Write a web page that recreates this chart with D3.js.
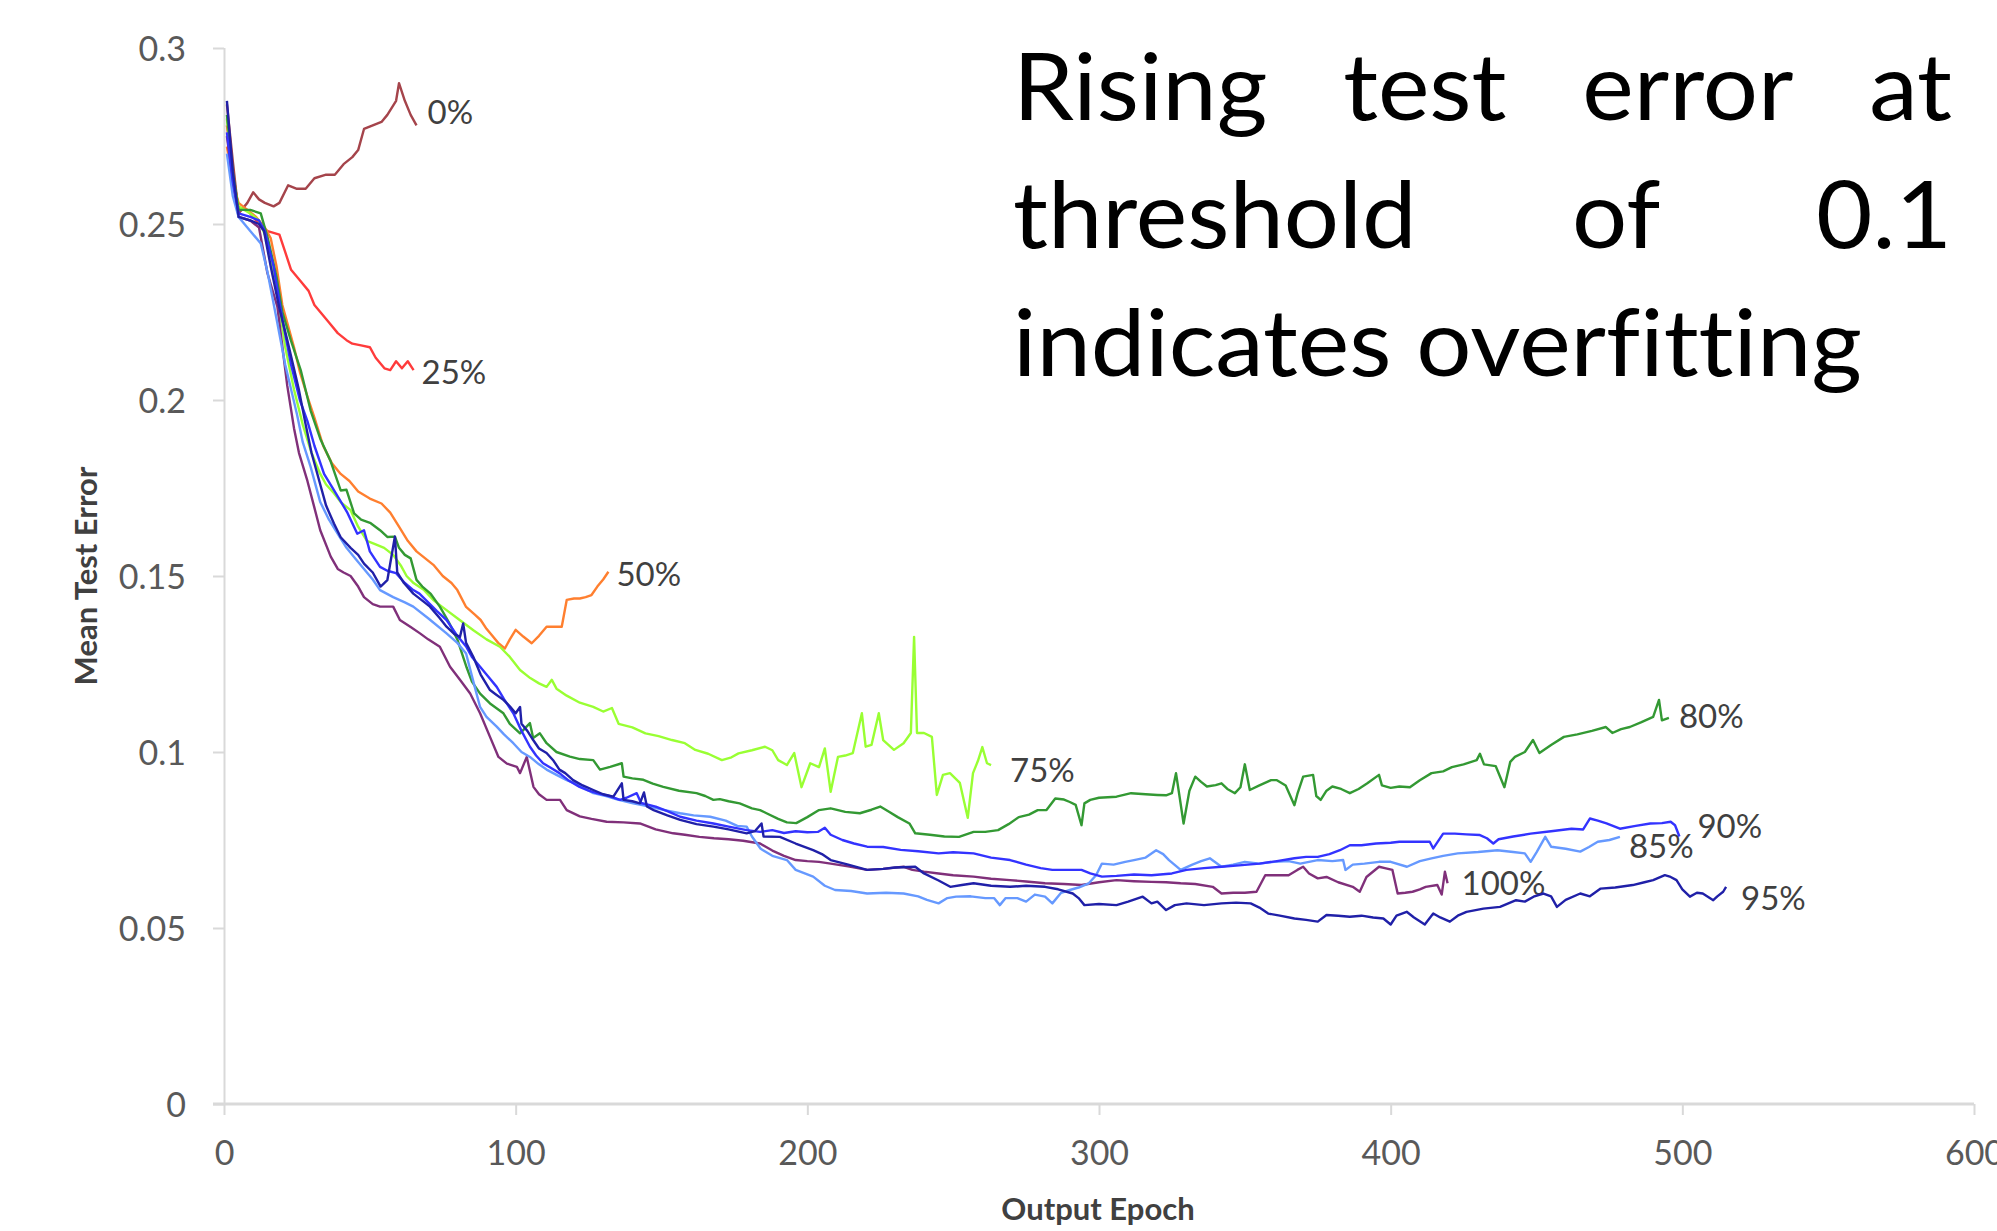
<!DOCTYPE html>
<html>
<head>
<meta charset="utf-8">
<script src="https://cdn.jsdelivr.net/npm/d3@7"></script>
<style>
  body { margin: 0; background: #fff; }
  svg { display: block; }
  text { font-variant-ligatures: none; }
</style>
</head>
<body>
<div id="chart"></div>
<script>
// ---- data: [epoch, mean test error] ----
var err0 = [[1,0.284],[3,0.268],[5,0.253],[8,0.256],[10,0.259],[12,0.257],[14,0.256],[17,0.255],[19,0.256],[22,0.261],[25,0.26],[28,0.26],[31,0.263],[35,0.264],[38,0.264],[41,0.267],[44,0.269],[46,0.271],[48,0.277],[51,0.278],[54,0.279],[56,0.281],[59,0.285],[60,0.29],[62,0.285],[64,0.281],[66,0.278]];

var err25 = [[1,0.278],[3,0.265],[5,0.254],[8,0.254],[11,0.251],[13,0.249],[15,0.248],[19,0.247],[21,0.242],[23,0.237],[26,0.234],[29,0.231],[31,0.227],[33,0.225],[36,0.222],[39,0.219],[42,0.217],[44,0.216],[47,0.2155],[50,0.215],[52,0.212],[55,0.209],[57,0.2085],[59,0.211],[61,0.209],[63,0.211],[65,0.2085]];

var err50 = [[1,0.272],[3,0.262],[5,0.256],[8,0.254],[11,0.252],[14,0.249],[16,0.246],[18,0.238],[20,0.227],[22,0.221],[24,0.215],[26,0.208],[28.6,0.201],[31,0.195],[34,0.187],[37,0.182],[40,0.179],[43,0.177],[46,0.174],[50,0.172],[54,0.1706],[57,0.168],[60,0.164],[63,0.16],[66,0.157],[69,0.155],[72,0.153],[75,0.15],[78,0.148],[80,0.146],[83,0.1412],[86,0.139],[88,0.1375],[90,0.135],[92,0.133],[94,0.131],[96.3,0.1294],[98,0.132],[100,0.1347],[102.6,0.1328],[105.5,0.1309],[108,0.133],[110.6,0.1356],[113,0.1356],[115.8,0.1356],[117.5,0.1432],[120,0.1436],[122,0.1436],[124,0.144],[126,0.1446],[128,0.147],[130,0.149],[131.8,0.1512]];

var err75 = [[1,0.28],[3,0.262],[5,0.255],[9,0.253],[12,0.251],[15,0.245],[18,0.232],[21,0.215],[24,0.203],[27,0.193],[30,0.185],[33,0.179],[35,0.176],[37.7,0.1735],[40,0.171],[43.4,0.1687],[46,0.164],[49,0.16],[52,0.159],[54.9,0.158],[58,0.156],[60.6,0.153],[62.6,0.15],[65,0.148],[68.6,0.146],[72,0.143],[76.3,0.1403],[80,0.138],[85.5,0.1346],[90,0.132],[94.6,0.1299],[98,0.127],[101.5,0.1233],[105,0.121],[108,0.1195],[110.6,0.1185],[112.4,0.1205],[114,0.118],[117.5,0.116],[122,0.114],[126.6,0.1128],[130,0.1115],[133,0.1125],[135.3,0.108],[140,0.107],[144.5,0.1053],[149,0.1045],[153.6,0.1034],[158,0.1025],[161.6,0.1006],[166,0.0995],[170.7,0.0977],[174,0.0985],[176.4,0.0996],[181,0.1005],[185.5,0.1015],[188,0.1005],[190,0.0977],[193,0.0963],[195.5,0.0997],[198,0.09],[201,0.0968],[204,0.0957],[206,0.101],[208,0.0887],[210.5,0.0986],[213,0.099],[215.6,0.0997],[218.7,0.111],[220,0.1015],[222,0.102],[224.5,0.111],[226,0.1034],[229.7,0.1006],[233,0.1025],[235.5,0.1054],[236.6,0.1327],[237.6,0.1054],[240,0.1054],[242.7,0.1043],[244.4,0.0878],[246.5,0.0935],[248.9,0.094],[252.3,0.0912],[255,0.0813],[256.8,0.094],[258.5,0.0975],[260,0.1014],[261.6,0.0968],[263,0.0963]];

var err80 = [[1,0.281],[3,0.265],[5,0.254],[9,0.254],[12.6,0.253],[15,0.246],[18,0.235],[20,0.225],[22.9,0.217],[26.3,0.2085],[29.7,0.197],[33,0.189],[36.6,0.1825],[40,0.1743],[42,0.1745],[44.6,0.1678],[47,0.166],[50.3,0.165],[53.5,0.163],[56,0.1611],[58.6,0.1612],[60,0.158],[62,0.156],[64,0.155],[66,0.1489],[68,0.147],[70.9,0.1449],[74,0.1413],[77,0.137],[80,0.132],[83.2,0.124],[85,0.12],[87.8,0.1166],[91.2,0.1138],[95.8,0.111],[98,0.108],[101.5,0.1053],[104.9,0.1082],[106,0.104],[108.3,0.1053],[110.6,0.1025],[114,0.1],[118.6,0.0987],[122,0.098],[126.6,0.0977],[128.9,0.095],[132.4,0.0958],[136.4,0.0968],[137,0.093],[140,0.0925],[143.8,0.0921],[147,0.091],[150.6,0.0901],[156,0.089],[162,0.0883],[165,0.0875],[167.8,0.0864],[170,0.0866],[173,0.086],[176.8,0.0854],[181,0.084],[183.8,0.0835],[186,0.0826],[190,0.081],[193,0.08],[196.2,0.0798],[200,0.0815],[204,0.0835],[208,0.084],[213,0.083],[218,0.0826],[222,0.0836],[225,0.0845],[228,0.083],[231,0.0815],[235,0.0797],[237,0.0769],[242,0.0765],[247,0.076],[252,0.0759],[257,0.0773],[261,0.0773],[265.4,0.0778],[269,0.0795],[272.5,0.0815],[276,0.0822],[279,0.0835],[282,0.0835],[285,0.0868],[288,0.0865],[290,0.0858],[292,0.085],[294,0.0792],[295,0.0854],[297,0.0864],[300,0.087],[306,0.0873],[311,0.0883],[316,0.088],[320,0.0878],[323,0.0877],[325,0.0883],[326.4,0.094],[327.5,0.088],[329,0.0797],[331,0.089],[333,0.093],[335,0.0915],[337,0.0902],[340,0.0906],[342,0.0911],[344,0.0895],[346.6,0.0883],[348.5,0.09],[350,0.0965],[351.7,0.0892],[355,0.0905],[359,0.092],[361,0.092],[364,0.0905],[367,0.0849],[368,0.088],[370,0.093],[373.4,0.0935],[374.5,0.0875],[376,0.0864],[378,0.089],[380,0.0902],[383,0.0895],[386,0.0883],[389,0.0895],[392,0.0911],[396,0.0935],[397,0.0905],[400,0.0898],[403,0.0902],[406.6,0.09],[410,0.092],[414,0.094],[418,0.0945],[421,0.0957],[425,0.0965],[429.5,0.0977],[430.6,0.0995],[432,0.0965],[436,0.096],[439,0.09],[441,0.0972],[442.6,0.0986],[446,0.1],[448.8,0.1034],[451,0.0997],[455,0.102],[459.4,0.1043],[464,0.105],[469,0.106],[473.8,0.1071],[476,0.1054],[479,0.1065],[482,0.1071],[486,0.1085],[490,0.11],[492,0.1148],[493,0.109],[495.4,0.1097]];

var err85 = [[1,0.27],[3,0.258],[5,0.252],[9,0.248],[12.6,0.2445],[15,0.236],[18.3,0.2218],[21,0.21],[25,0.196],[27,0.188],[29.7,0.181],[33,0.171],[36,0.166],[39,0.162],[42,0.158],[45,0.155],[48,0.152],[51,0.149],[53.5,0.146],[58,0.144],[62,0.1425],[64.9,0.1413],[70,0.138],[76.3,0.1337],[80,0.131],[83,0.128],[85.5,0.12],[87.8,0.1128],[90,0.11],[93.5,0.1072],[96,0.105],[99.2,0.1025],[102,0.1],[104.9,0.0986],[108,0.0965],[110.6,0.095],[114,0.0935],[117.5,0.092],[122,0.0905],[126.6,0.0883],[131,0.0875],[135,0.0865],[140.3,0.0854],[146,0.0845],[151,0.0835],[156.4,0.0826],[161,0.082],[166.7,0.0816],[172,0.0805],[176,0.079],[179.2,0.0788],[181,0.076],[184,0.0725],[188,0.0705],[193,0.0693],[196,0.0665],[202,0.0646],[206,0.062],[209.5,0.0608],[215,0.0605],[220.5,0.0598],[227,0.06],[233,0.0598],[238,0.059],[241,0.058],[245,0.057],[248,0.0585],[251,0.0589],[256,0.059],[261,0.0585],[264,0.0585],[266,0.0565],[268,0.0585],[272,0.0585],[275,0.0575],[278,0.0595],[281.5,0.0589],[284,0.057],[287,0.06],[290,0.0608],[293,0.0615],[296.5,0.0627],[299,0.065],[301,0.0683],[305,0.068],[309,0.0688],[312,0.0693],[316,0.07],[319.6,0.0721],[322,0.071],[324,0.0693],[328,0.0665],[332,0.068],[335,0.069],[338,0.0698],[342,0.0674],[346,0.068],[350,0.0688],[355,0.0683],[360,0.0688],[365,0.069],[369,0.0683],[375,0.0693],[380,0.069],[383.7,0.0693],[384.5,0.0665],[387,0.068],[391,0.0683],[396,0.0688],[400,0.0688],[405.6,0.0674],[410,0.069],[414,0.0698],[418,0.0705],[423,0.0712],[430,0.0716],[436.6,0.0721],[442,0.0716],[446,0.0712],[448,0.0688],[450,0.0715],[453,0.0759],[455,0.0731],[460,0.0725],[465,0.0717],[468,0.073],[471,0.0745],[475,0.075],[478.6,0.0759]];

var err90 = [[1,0.276],[3,0.262],[5,0.253],[9,0.252],[12,0.251],[14,0.248],[17,0.238],[20,0.223],[23,0.21],[26,0.2],[28.6,0.194],[31,0.187],[34.3,0.179],[38,0.174],[42.3,0.168],[45.7,0.162],[48,0.163],[50,0.157],[53.5,0.1526],[56,0.1515],[59,0.1508],[62,0.148],[64.9,0.146],[67,0.145],[70.6,0.142],[73,0.14],[76.3,0.1375],[80,0.133],[83,0.13],[85,0.127],[87.8,0.1242],[90,0.122],[93.5,0.1185],[96,0.115],[99.2,0.111],[102,0.106],[104.9,0.1015],[107,0.099],[109.4,0.0968],[112,0.0955],[115,0.094],[118,0.092],[121.9,0.0901],[125,0.089],[127.8,0.0883],[132,0.0875],[135.8,0.0864],[138,0.087],[141.5,0.0883],[143,0.0855],[148,0.0845],[152,0.0832],[156.4,0.0816],[162,0.0805],[167.8,0.0797],[173,0.0788],[179.2,0.0778],[183.8,0.0773],[188,0.0778],[192,0.077],[196,0.0775],[200,0.0772],[203.6,0.0773],[206,0.0785],[208,0.0765],[212,0.075],[216,0.074],[220.5,0.0731],[226,0.073],[232,0.0722],[238,0.0718],[245,0.0712],[250,0.0715],[257,0.0712],[263,0.07],[269.5,0.0693],[275,0.068],[280,0.067],[284,0.0665],[289,0.0665],[294,0.0665],[297,0.0655],[301,0.0646],[306,0.0648],[312,0.0652],[318,0.065],[325,0.0655],[330,0.0665],[336,0.067],[342,0.0674],[348,0.0678],[355,0.0683],[361,0.069],[367,0.0698],[371,0.0702],[375,0.0702],[379,0.071],[382.6,0.0721],[386,0.0735],[390,0.0735],[395,0.074],[400,0.0742],[403,0.0745],[408,0.0745],[413.4,0.0745],[414.6,0.0726],[418,0.0768],[422,0.0768],[426,0.0766],[430.6,0.0764],[433,0.0755],[435.2,0.074],[437,0.0752],[442,0.076],[448,0.0768],[455,0.0775],[462,0.0782],[466,0.078],[468.3,0.0811],[471,0.0805],[474,0.0797],[478.6,0.0782],[484,0.079],[489,0.0797],[493,0.0798],[496,0.0802],[497.5,0.0792],[499,0.076]];

var err95 = [[1,0.285],[3,0.265],[5,0.252],[9,0.251],[12,0.25],[13.7,0.248],[16,0.238],[19,0.226],[21.7,0.217],[25.7,0.2028],[28,0.193],[30,0.185],[33,0.176],[35,0.17],[37.7,0.1649],[40,0.161],[43.4,0.158],[46,0.156],[48,0.1535],[51,0.151],[53.7,0.147],[56,0.1488],[58.6,0.1612],[59.4,0.151],[61.7,0.148],[64.9,0.145],[68,0.143],[70.6,0.1413],[74,0.138],[76.3,0.1356],[79,0.1335],[80.9,0.1327],[82,0.1365],[83,0.131],[85.5,0.127],[88,0.122],[91.2,0.1176],[93,0.1165],[95.8,0.1148],[98,0.113],[100,0.111],[101.5,0.1128],[102,0.108],[104,0.106],[106,0.1034],[108,0.101],[110.6,0.0997],[113,0.0975],[115,0.095],[117,0.094],[119.7,0.092],[123,0.0905],[126.6,0.0892],[130,0.088],[133.5,0.0873],[136.4,0.0911],[137,0.0864],[140,0.086],[142.6,0.0854],[144,0.0885],[145,0.0845],[147.3,0.0835],[152,0.082],[156.4,0.0807],[162,0.0795],[167.8,0.0788],[173,0.078],[179.2,0.0769],[182,0.0775],[184.3,0.0797],[185,0.076],[190.6,0.0759],[196,0.074],[202,0.0721],[205,0.071],[208,0.0693],[214,0.068],[220.5,0.0665],[226,0.0668],[230,0.0672],[237,0.0674],[240,0.0655],[245,0.0635],[249,0.0617],[253,0.0622],[257,0.0627],[263,0.062],[269.5,0.0617],[275,0.062],[281.5,0.0617],[286,0.061],[291,0.0598],[293,0.0585],[295,0.0565],[300,0.0568],[306,0.0565],[310,0.0575],[315,0.0589],[318,0.057],[320,0.0575],[323,0.0551],[326,0.0565],[330,0.057],[336,0.0565],[342,0.057],[347,0.0572],[352,0.057],[355,0.0558],[358,0.0541],[362,0.0535],[367,0.0527],[371,0.0523],[375,0.0518],[378,0.0537],[382,0.0535],[386,0.0532],[390,0.0535],[394,0.053],[397.5,0.0527],[400,0.051],[402,0.0535],[405.5,0.0546],[408,0.053],[411.7,0.051],[414.6,0.0541],[417,0.053],[420.3,0.0518],[423,0.0535],[426,0.0546],[431.8,0.0555],[437.5,0.056],[443,0.0579],[446,0.0575],[449,0.0589],[452.4,0.0598],[455,0.059],[457,0.056],[460,0.058],[465,0.0598],[468.3,0.059],[472,0.0612],[477,0.0615],[483,0.0622],[487,0.063],[490,0.0636],[494,0.065],[496,0.0645],[498,0.0636],[500,0.061],[502.6,0.0589],[505,0.06],[507,0.0598],[510.6,0.0579],[512,0.059],[514,0.0603],[515,0.0617]];

var err100 = [[1,0.275],[3,0.262],[5,0.252],[9,0.251],[12,0.249],[14.9,0.236],[18.3,0.2265],[21.7,0.204],[24,0.192],[25.7,0.185],[28.6,0.177],[30.9,0.1697],[33,0.163],[36.6,0.1555],[39,0.152],[41,0.151],[43.4,0.15],[46,0.147],[48,0.144],[51,0.142],[53.5,0.1413],[58,0.1413],[60.3,0.1375],[64,0.1355],[67.2,0.1337],[70,0.132],[74,0.1299],[77.5,0.1242],[80.9,0.1205],[84.4,0.1166],[87.8,0.111],[91.2,0.1043],[94.1,0.0986],[97,0.0967],[100.4,0.0958],[101.5,0.094],[103.8,0.0986],[106.1,0.0901],[108,0.088],[110.6,0.0864],[115.2,0.0864],[117.5,0.0835],[122,0.0817],[126,0.081],[131.2,0.0802],[137,0.08],[142.6,0.0797],[148,0.078],[154,0.0769],[158,0.0765],[163,0.0759],[168,0.0755],[173,0.0752],[178,0.0748],[183.8,0.074],[188,0.072],[192,0.0705],[196,0.0693],[200,0.069],[204,0.0688],[208,0.0683],[214,0.0675],[220.5,0.0665],[226,0.0668],[233,0.0674],[236,0.0665],[240,0.066],[245,0.0655],[250,0.065],[257,0.0646],[263,0.064],[269.5,0.0636],[275,0.0632],[281.5,0.0627],[288,0.0625],[294,0.0622],[300,0.063],[306,0.0636],[312,0.0633],[318,0.0631],[323,0.063],[328,0.0627],[333,0.0625],[339,0.0617],[342,0.0598],[346,0.06],[350,0.06],[354,0.0603],[357,0.065],[361,0.065],[365,0.065],[368,0.0665],[370,0.0674],[372,0.0655],[375,0.0641],[378,0.0645],[382,0.063],[387,0.0617],[389.4,0.0603],[391.7,0.0645],[396,0.0674],[398,0.067],[400.6,0.0665],[402.4,0.0598],[405,0.06],[407.5,0.0603],[410,0.061],[412,0.0617],[416,0.0622],[417.5,0.0595],[418.6,0.066],[419.5,0.0627]];

var seriesNames = ["0%", "25%", "50%", "75%", "80%", "100%", "85%", "90%", "95%"];
var seriesData = [err0, err25, err50, err75, err80, err100, err85, err90, err95];

var xTicks = [0, 100, 200, 300, 400, 500, 600];
var yTicks = [0, 0.05, 0.1, 0.15, 0.2, 0.25, 0.3];

var noteLines = [
  ["Rising", "test", "error", "at"],
  ["threshold", "of", "0.1"],
  ["indicates", "overfitting"]
];

// ---- styling (kept apart from the data) ----
var colors = {
  "0%": "#a5444b", "25%": "#ff3b3b", "50%": "#ff7f2f", "75%": "#99ff33",
  "80%": "#339933", "85%": "#6699ff", "90%": "#3333ff", "95%": "#2020a8",
  "100%": "#80307a"
};
// label offset from the last point of each line
var labelOffset = {
  "0%": [11, -13], "25%": [8, 2], "50%": [8, 2], "75%": [19, 5],
  "80%": [10, -2], "85%": [9, 9], "90%": [18, -10], "95%": [15, 11],
  "100%": [14, 0]
};

var fontFam = "Lato, 'Open Sans', sans-serif";

var W = 1997, H = 1231;
var margin = {top: 48, right: 23, bottom: 127, left: 224},
  width = W - margin.left - margin.right,
  height = H - margin.top - margin.bottom;

var svg = d3.select("#chart")
.append("svg")
  .attr("width", W)
  .attr("height", H)
  .style("font-family", fontFam);

var g = svg.append("g")
  .attr("transform", "translate(" + margin.left + "," + margin.top + ")");

var x = d3.scaleLinear().domain([0, 600]).range([0, width]);
var y = d3.scaleLinear().domain([0, 0.3]).range([height, 0]);

// y axis
var yAxis = g.append("g")
  .call(d3.axisLeft(y).tickValues(yTicks).tickSize(11).tickPadding(27)
    .tickFormat(function(d) { return d === 0 ? "0" : d3.format("")(+d.toFixed(2)); }));
yAxis.attr("font-family", null);
yAxis.select(".domain").attr("stroke", "#d9d9d9").attr("stroke-width", 2).attr("d", "M0.5," + height + "V0");
yAxis.selectAll(".tick line").attr("stroke", "#d9d9d9").attr("stroke-width", 2);
yAxis.selectAll(".tick text").attr("fill", "#595959")
  .style("font-family", fontFam).style("font-size", "34px").attr("dy", "0.36em");

// x axis
var xAxis = g.append("g")
  .attr("transform", "translate(0," + height + ")")
  .call(d3.axisBottom(x).tickValues(xTicks).tickSize(11).tickPadding(26));
xAxis.attr("font-family", null);
xAxis.select(".domain").attr("stroke", "#d9d9d9").attr("stroke-width", 3).attr("d", "M-11,0H" + width);
xAxis.selectAll(".tick line").attr("stroke", "#d9d9d9").attr("stroke-width", 2);
xAxis.selectAll(".tick text").attr("fill", "#595959")
  .style("font-family", fontFam).style("font-size", "34px");

// axis titles
svg.append("text")
  .attr("transform", "translate(97," + (margin.top + height / 2) + ") rotate(-90)")
  .attr("text-anchor", "middle")
  .style("font-size", "31px")
  .style("font-weight", "bold")
  .attr("fill", "#404040")
  .text("Mean Test Error");

svg.append("text")
  .attr("x", margin.left + x(300) - 1)
  .attr("y", 1220)
  .attr("text-anchor", "middle")
  .style("font-size", "31px")
  .style("font-weight", "bold")
  .attr("fill", "#404040")
  .text("Output Epoch");

// lines
var line = d3.line()
  .x(function(d) { return x(d[0]); })
  .y(function(d) { return y(d[1]); });

seriesNames.forEach(function(name, i) {
  var data = seriesData[i];
  g.append("path")
    .datum(data)
    .attr("fill", "none")
    .attr("stroke", colors[name])
    .attr("stroke-width", 2.4)
    .attr("stroke-linejoin", "round")
    .attr("d", line);

  var last = data[data.length - 1];
  g.append("text")
    .attr("x", x(last[0]) + labelOffset[name][0])
    .attr("y", y(last[1]) + labelOffset[name][1])
    .attr("dy", "0.36em")
    .attr("fill", "#404040")
    .style("font-size", "33px")
    .text(name);
});

// justified note at top right
var note = svg.append("g").style("font-size", "93px").attr("fill", "#000");
var noteLeft = 1013, noteRight = 1952, noteTarget3 = 849;
var baselines = [120, 248, 376];

// measure the last line to get the horizontal stretch
var probe = note.append("text").text(noteLines[2].join(" "));
var sx = noteTarget3 / probe.node().getComputedTextLength();
probe.remove();
note.attr("transform", "translate(" + noteLeft + ",0) scale(" + sx + ",1)");
var boxW = (noteRight - noteLeft) / sx;

noteLines.forEach(function(words, li) {
  if (li === noteLines.length - 1) {
    note.append("text").attr("x", 0).attr("y", baselines[li]).text(words.join(" "));
    return;
  }
  var widths = words.map(function(w) {
    var t = note.append("text").text(w);
    var wd = t.node().getComputedTextLength();
    t.remove();
    return wd;
  });
  var gap = (boxW - d3.sum(widths)) / (words.length - 1);
  var cx = 0;
  words.forEach(function(w, k) {
    note.append("text").attr("x", cx).attr("y", baselines[li]).text(w);
    cx += widths[k] + gap;
  });
});
</script>
</body>
</html>
